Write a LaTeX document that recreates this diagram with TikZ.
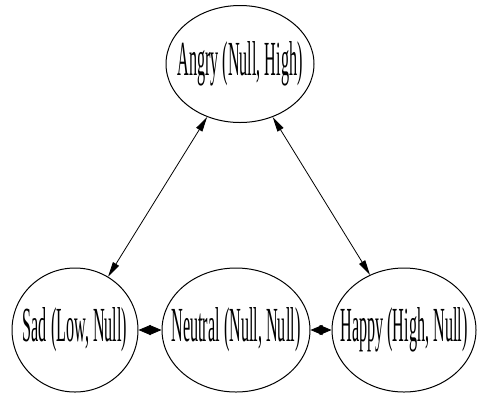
\documentclass[tikz,border=0pt]{standalone}
\usepackage{fontspec}
\setmainfont{Liberation Serif}
\usetikzlibrary{shapes.geometric,arrows.meta}
\newcommand{\sq}[1]{\raisebox{-4pt}{\makebox[0pt]{\scalebox{0.33}[1]{\fontsize{49}{49}\selectfont #1}}}}
\begin{document}
\begin{tikzpicture}[x=1pt,y=-1pt,
  state/.style={ellipse,draw,line width=1pt,inner sep=0pt,minimum width=146pt,minimum height=124pt},
  diag/.style={line width=0.8pt,{Triangle[length=15pt,width=7pt]}-{Triangle[length=15pt,width=7pt]}},
  horiz/.style={line width=0.8pt,{Triangle[length=12pt,width=10pt]}-{Triangle[length=12pt,width=10pt]}}]
\useasboundingbox (0,0) rectangle (478,400);
\node[state,minimum width=148pt,minimum height=117pt] (angry) at (240,64) {\sq{Angry (Null, High)}};
\node[state,minimum width=126pt] (sad) at (75,330) {\sq{Sad (Low, Null)}};
\node[state,minimum width=148pt] (neutral) at (236,330) {\sq{Neutral (Null, Null)}};
\node[state,minimum width=144pt] (happy) at (404,330) {\sq{Happy (High, Null)}};
\draw[diag] (angry) -- (sad);
\draw[diag] (angry) -- (happy);
\draw[horiz] (sad) -- (neutral);
\draw[horiz] (neutral) -- (happy);
\end{tikzpicture}
\end{document}
